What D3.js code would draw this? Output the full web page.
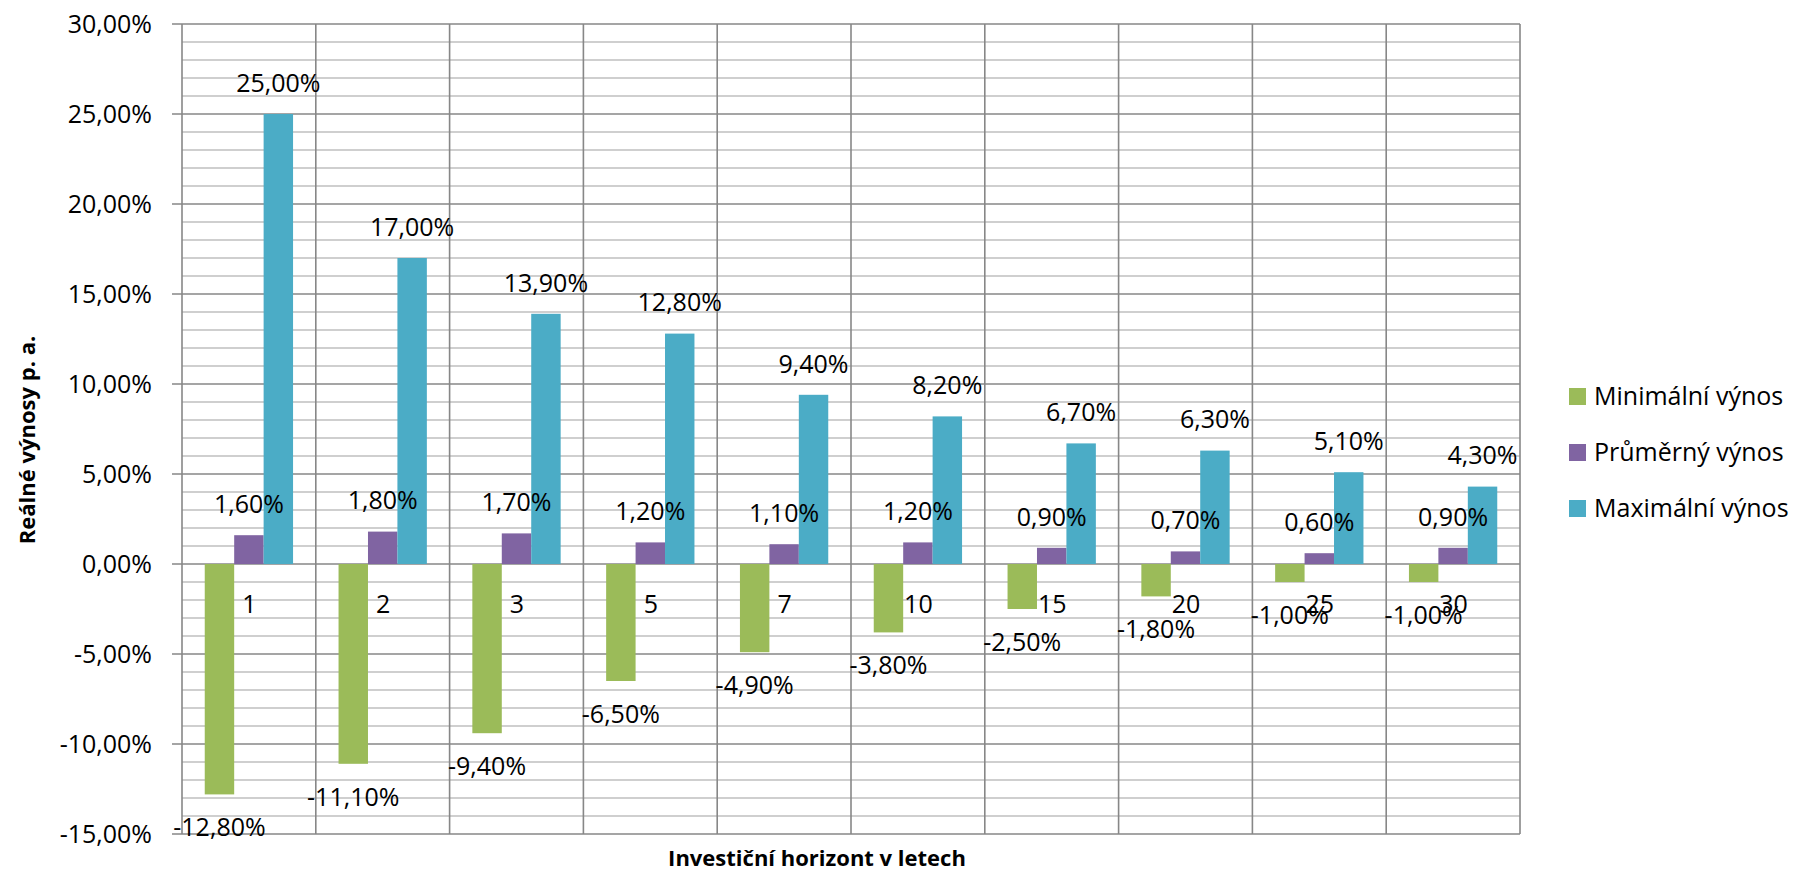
<!DOCTYPE html>
<html><head><meta charset="utf-8">
<script src="https://cdn.jsdelivr.net/npm/d3@7"></script>
<style>html,body{margin:0;padding:0;background:#fff;} svg{display:block;}</style>
</head><body>
<svg id="chart" width="1807" height="872"></svg>
<script>
const categories = ["1","2","3","5","7","10","15","20","25","30"];
const seriesNames = ["Minimální výnos","Průměrný výnos","Maximální výnos"];
const minValues = [-12.8,-11.1,-9.4,-6.5,-4.9,-3.8,-2.5,-1.8,-1.0,-1.0];
const avgValues = [1.6,1.8,1.7,1.2,1.1,1.2,0.9,0.7,0.6,0.9];
const maxValues = [25.0,17.0,13.9,12.8,9.4,8.2,6.7,6.3,5.1,4.3];
const yTicks = [-15,-10,-5,0,5,10,15,20,25,30];
const colors = ["#9BBB59","#8064A2","#4BACC6"];
const yTitle = "Reálné výnosy p. a.";
const xTitle = "Investiční horizont v letech";

const series = [minValues, avgValues, maxValues];
const svg = d3.select("#chart");
const font = "'Open Sans', sans-serif";
const L = 182, R = 1520, T = 24, B = 834;

const x = d3.scaleBand().domain(categories).range([L, R]).paddingInner(0).paddingOuter(0);
const y = d3.scaleLinear().domain([-15, 30]).range([B, T]);
const bw = x.bandwidth();
const barW = bw * 0.22;
const groupOff = (bw - 3 * barW) / 2;

const fmt = v => v.toFixed(2).replace(".", ",") + "%";

// minor gridlines
const minor = d3.range(-15, 31, 1).filter(v => v % 5 !== 0);
svg.append("g").selectAll("line").data(minor).join("line")
  .attr("x1", L).attr("x2", R).attr("y1", d => y(d)).attr("y2", d => y(d))
  .attr("stroke", "#BFBFBF").attr("stroke-width", 1.6);
// major gridlines
svg.append("g").selectAll("line").data(yTicks).join("line")
  .attr("x1", L - 10).attr("x2", R).attr("y1", d => y(d)).attr("y2", d => y(d))
  .attr("stroke", "#878787").attr("stroke-width", 1.6);
// vertical category lines
const vlines = categories.map(c => x(c)).concat([R]);
svg.append("g").selectAll("line").data(vlines).join("line")
  .attr("x1", d => d).attr("x2", d => d).attr("y1", T).attr("y2", B)
  .attr("stroke", "#878787").attr("stroke-width", 1.6);

// y tick labels
svg.append("g").selectAll("text").data(yTicks).join("text")
  .attr("x", 152).attr("y", d => y(d)).attr("dy", "0.35em")
  .attr("text-anchor", "end").attr("font-family", font).attr("font-size", 25)
  .attr("fill", "#000").text(d => fmt(d));

// bars
series.forEach((vals, si) => {
  const g = svg.append("g");
  g.selectAll("rect").data(vals).join("rect")
    .attr("x", (d, i) => x(categories[i]) + groupOff + si * barW)
    .attr("width", barW)
    .attr("y", d => y(Math.max(0, d)))
    .attr("height", d => Math.abs(y(d) - y(0)))
    .attr("fill", colors[si]);
});

// category labels
svg.append("g").selectAll("text").data(categories).join("text")
  .attr("x", d => x(d) + bw / 2 + 0.5).attr("y", y(0) + 40)
  .attr("dy", "0.35em").attr("text-anchor", "middle")
  .attr("font-family", font).attr("font-size", 25).text(d => d);

// value labels
series.forEach((vals, si) => {
  svg.append("g").selectAll("text").data(vals).join("text")
    .attr("x", (d, i) => x(categories[i]) + groupOff + si * barW + barW / 2)
    .attr("y", d => d >= 0 ? y(d) - 31 : y(d) + 33)
    .attr("dy", "0.35em").attr("text-anchor", "middle")
    .attr("font-family", font).attr("font-size", 25).text(d => fmt(d));
});

// axis titles
svg.append("text").attr("transform", `translate(27,440) rotate(-90)`)
  .attr("dy", "0.35em").attr("text-anchor", "middle")
  .attr("font-family", font).attr("font-weight", "bold").attr("font-size", 22).text(yTitle);
svg.append("text").attr("x", 817).attr("y", 858).attr("dy", "0.35em")
  .attr("text-anchor", "middle")
  .attr("font-family", font).attr("font-weight", "bold").attr("font-size", 22).text(xTitle);

// legend
const lg = svg.append("g");
seriesNames.forEach((n, i) => {
  const cy = 396.5 + i * 56;
  lg.append("rect").attr("x", 1569).attr("y", cy - 8.5).attr("width", 17).attr("height", 17).attr("fill", colors[i]);
  lg.append("text").attr("x", 1594).attr("y", cy).attr("dy", "0.35em")
    .attr("font-family", font).attr("font-size", 25).text(n);
});
</script>
</body></html>
